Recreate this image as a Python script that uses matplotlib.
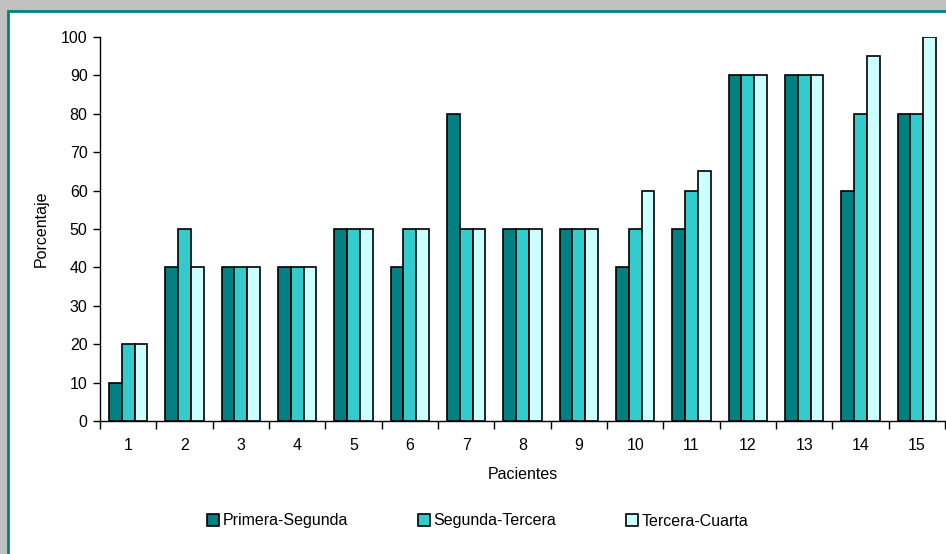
import numpy as np
import matplotlib
matplotlib.use("Agg")
import matplotlib.pyplot as plt
from matplotlib.patches import Rectangle, Patch
from matplotlib.ticker import FixedLocator

plt.rcParams["font.family"] = ["Liberation Sans", "DejaVu Sans"]

pacientes = [str(i) for i in range(1, 16)]
primera_segunda = [10, 40, 40, 40, 50, 40, 80, 50, 50, 40, 50, 90, 90, 60, 80]
segunda_tercera = [20, 50, 40, 40, 50, 50, 50, 50, 50, 50, 60, 90, 90, 80, 80]
tercera_cuarta = [20, 40, 40, 40, 50, 50, 50, 50, 50, 60, 65, 90, 90, 95, 100]

series = [
    ("Primera-Segunda", primera_segunda, "#008080"),
    ("Segunda-Tercera", segunda_tercera, "#33CCCC"),
    ("Tercera-Cuarta", tercera_cuarta, "#CCFFFF"),
]

FS = 11.5
W, H = 946, 554
fig = plt.figure(figsize=(W / 100, H / 100), dpi=100)
fig.patch.set_facecolor("#C0C0C0")

# marco blanco con borde verde azulado, por debajo de los ejes
fig.patches.append(Rectangle((8 / W, -0.05), 1.1, 1 - 11 / H + 0.05,
                             transform=fig.transFigure, facecolor="white",
                             edgecolor="#008080", linewidth=2, zorder=-10))

ax = fig.add_axes([100 / W, 1 - 421 / H, 845 / W, 384 / H])
ax.set_facecolor("none")

x = np.arange(1, 16)
w = 0.225
for k, (name, vals, color) in enumerate(series):
    ax.bar(x + (k - 1) * w, vals, width=w, color=color, edgecolor="black",
           linewidth=1.2, label=name, zorder=3)

ax.set_xlim(0.5, 15.5)
ax.set_ylim(0, 100)
ax.set_yticks(range(0, 101, 10))
ax.set_xticks(x)
ax.set_xticklabels(pacientes)
ax.xaxis.set_minor_locator(FixedLocator(np.arange(0.5, 16, 1)))
ax.tick_params(axis="x", which="major", length=0, pad=12, labelsize=FS)
ax.tick_params(axis="x", which="minor", length=6, width=1, direction="out")
ax.tick_params(axis="y", length=5, width=1, direction="out", pad=4,
               labelsize=FS)

for s in ("top", "right"):
    ax.spines[s].set_visible(False)
for s in ("left", "bottom"):
    ax.spines[s].set_linewidth(1)

ax.set_xlabel("Pacientes", fontsize=FS, labelpad=10)
ax.set_ylabel("Porcentaje", fontsize=FS, labelpad=9)

handles = [Patch(facecolor=c, edgecolor="black", linewidth=1.2) for _, _, c in series]
fig.legend(handles, [n for n, _, _ in series], loc="center",
           bbox_to_anchor=(0.505, 1 - 521 / H), ncol=3, frameon=False,
           fontsize=FS, handlelength=0.75, handleheight=0.75,
           handletextpad=0.25, columnspacing=4.35)

fig.savefig("out.png", dpi=100, facecolor=fig.get_facecolor())
